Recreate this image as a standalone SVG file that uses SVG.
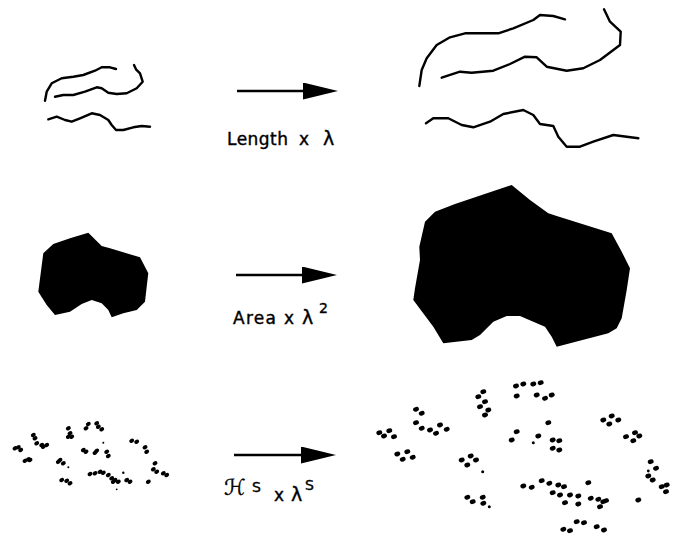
<svg xmlns="http://www.w3.org/2000/svg" xmlns:xlink="http://www.w3.org/1999/xlink" width="674" height="534" viewBox="0 0 674 534">
<style>
.curve{fill:none;stroke:#000;stroke-width:2.4;stroke-linejoin:round;stroke-linecap:round}
.blob{fill:#000;stroke:none}
.arrow{stroke:#000;stroke-width:2.6;fill:none}
.lbl{font-family:"DejaVu Sans","Liberation Sans",sans-serif;font-size:17px;fill:#000;stroke:#000;stroke-width:0.4}
.lam{font-family:"DejaVu Sans","Liberation Sans",sans-serif;font-size:19px;fill:#000;stroke:#000;stroke-width:0.4}
.sup{font-family:"DejaVu Sans","Liberation Sans",sans-serif;font-size:14px;fill:#000;stroke:#000;stroke-width:0.4}
.scr{font-family:"DejaVu Serif","DejaVu Sans",serif;font-size:22px;font-style:italic;fill:#000;stroke:#000;stroke-width:0.3}
</style>
<defs>
<marker id="head" markerUnits="userSpaceOnUse" markerWidth="36" markerHeight="18" refX="0" refY="8.5" orient="auto" viewBox="0 0 36 18">
<path d="M0,0 L35,8.5 L0,17 Z" fill="#000"/>
</marker>
<ellipse id="d" rx="3" ry="2.3" transform="rotate(-20)"/>
<ellipse id="s" rx="2.6" ry="2" transform="rotate(-30)"/>
</defs>
<rect width="674" height="534" fill="#fff"/>

<g id="curves-small">
<path class="curve" d="M45,100.7 L46.7,91.7 L51.7,83.3 L61.7,78.3 L73.3,76.7 L83.3,75 L95,70.7 L101.7,67.3 L110,67.3 L116,69"/>
<path class="curve" d="M55,96.7 L63.3,95 L73.3,95 L85,91.7 L96.7,87.3 L101.7,88.3 L108.3,92.7 L116.7,94 L126.7,93.3 L136.7,88.3 L142.7,81.7 L140,73.3 L136,69.3 L134,65"/>
<path class="curve" d="M48.3,119.3 L56.7,116.7 L65,120 L71.7,121.7 L80,118.3 L91.7,113.3 L100,115 L108.3,120 L111.7,125 L116,130 L123.3,130 L133.3,127.3 L141.7,126 L150,126.7"/>
</g>

<g id="curves-large">
<path class="curve" d="M419.3,86 L421.7,70 L426.7,58.3 L436.7,45 L450,37.3 L465,33.3 L498.3,33.3 L513.3,28.3 L533.3,20 L540,15 L553.3,16 L565,19.3"/>
<path class="curve" d="M441.7,77.7 L460,71.7 L471.7,72.7 L493.3,70.7 L510,64 L525,56.7 L536.7,57.3 L546.7,66.7 L566.7,70.7 L583.3,68.3 L600,60 L620,45 L620.7,31.7 L610,21.7 L604,9.3"/>
<path class="curve" d="M426,123.3 L433.3,118.3 L448.3,118.3 L461.7,125 L473.3,127.3 L490,121.7 L503.3,114 L523.3,110 L533.3,115 L540,124 L553.3,126 L558.3,136.7 L566.7,146.7 L580,146.7 L593.3,141.7 L613.3,135 L638.3,138.3"/>
</g>

<g id="shape-small">
<path class="blob" d="M88.3,232.7 L101.7,246 L110,248.3 L140,257.3 L148.3,273.3 L146.7,286.7 L145,301.7 L136.7,310 L123.3,313.3 L111.7,317.3 L108.3,310 L101.7,303.3 L91.7,300 L81.7,304 L70,311.7 L55,315 L46.7,305 L38.3,291.7 L40.7,273.3 L43.3,253.3 L53.3,244 L70,238.3 Z"/>
</g>

<g id="shape-large">
<path class="blob" d="M511.7,185 L530,200 L548.3,213.3 L556.7,216 L611.7,233.3 L621.7,251.7 L630,268.3 L626.7,290 L621.7,318.3 L616.7,328.3 L608.3,333.3 L556.7,346.7 L551.7,336.7 L545,326.7 L533.3,321.7 L520,316 L506.7,316 L493.3,321.7 L480,335 L471.7,340 L443.3,343.3 L433.3,326.7 L413.3,300 L415,288.3 L420,260 L419.3,246.7 L425,221.7 L435,211.7 L455,204 Z"/>
</g>

<g id="dust-small">
<use href="#s" x="15" y="448.3"/><use href="#s" x="18.3" y="447.3"/><use href="#s" x="20.7" y="450"/>
<use href="#s" x="33.3" y="435"/><use href="#s" x="35" y="438.3"/><use href="#s" x="36.7" y="443.3"/><use href="#s" x="41.7" y="445"/><use href="#s" x="46.7" y="445"/><use href="#s" x="43.3" y="446.7"/>
<use href="#s" x="28.3" y="459.3"/><use href="#s" x="25" y="460.7"/><use href="#s" x="30" y="460"/>
<use href="#s" x="68.3" y="428.3"/><use href="#s" x="70" y="433.3"/><use href="#s" x="68.3" y="436.7"/><use href="#s" x="71.7" y="436.7"/>
<use href="#s" x="88.3" y="424"/><use href="#s" x="86" y="428.3"/><use href="#s" x="96.7" y="423.3"/><use href="#s" x="98.3" y="426.7"/><use href="#s" x="101.7" y="429.3"/>
<use href="#s" x="60" y="460"/><use href="#s" x="58.3" y="461.7"/><use href="#s" x="63.3" y="463.3"/><circle cx="68.3" cy="467.3" r="1"/>
<use href="#s" x="83.3" y="450"/><use href="#s" x="86" y="451.7"/><use href="#s" x="96.7" y="450.7"/><use href="#s" x="95" y="452.7"/><use href="#s" x="106.7" y="451.7"/><use href="#s" x="108.3" y="456"/>
<circle cx="103.3" cy="442.7" r="1"/>
<use href="#s" x="131.7" y="440.7"/><use href="#s" x="136.7" y="441.7"/><use href="#s" x="145" y="447.3"/><use href="#s" x="146.7" y="451.7"/>
<use href="#s" x="155" y="463.3"/><use href="#s" x="153.3" y="469.3"/><use href="#s" x="156.7" y="471.7"/><use href="#s" x="163.3" y="473.3"/><use href="#s" x="166.7" y="475"/>
<use href="#s" x="61.7" y="480"/><use href="#s" x="66.7" y="480.7"/><use href="#s" x="70" y="483.3"/>
<use href="#s" x="90" y="474"/><use href="#s" x="95" y="473.3"/><use href="#s" x="100" y="471.7"/><use href="#s" x="103.3" y="472.7"/><use href="#s" x="108.3" y="475"/><use href="#s" x="111.7" y="478.3"/><use href="#s" x="115" y="480"/><use href="#s" x="118.3" y="481.7"/><use href="#s" x="113.3" y="481.7"/>
<circle cx="123.3" cy="472.7" r="1.2"/>
<use href="#s" x="126.7" y="480"/><use href="#s" x="130" y="481.7"/>
<use href="#s" x="148.3" y="481.7"/>
<circle cx="116.7" cy="489.3" r="0.9"/>
</g>

<g id="dust-large">
<use href="#d" x="379.3" y="432.7"/><use href="#d" x="384" y="436"/><use href="#d" x="389.3" y="430.7"/><use href="#d" x="394" y="436.7"/>
<use href="#d" x="416" y="409.3"/><use href="#d" x="421.7" y="413.3"/><use href="#d" x="416" y="422.7"/><use href="#d" x="421.7" y="428.3"/><use href="#d" x="430" y="430"/><use href="#d" x="436" y="433.3"/><use href="#d" x="440" y="425"/><use href="#d" x="446.7" y="429.3"/>
<use href="#d" x="397.3" y="454"/><use href="#d" x="402.7" y="459.3"/><use href="#d" x="407.3" y="451.7"/><use href="#d" x="412.7" y="457.3"/>
<use href="#d" x="461.7" y="460"/><use href="#d" x="467.3" y="465"/><use href="#d" x="470.7" y="456"/><use href="#d" x="476" y="460"/><circle cx="482.7" cy="471.7" r="1.5"/>
<use href="#d" x="467.3" y="497.3"/><use href="#d" x="472.7" y="501.7"/><use href="#d" x="482.7" y="497.3"/><use href="#d" x="483.3" y="503.3"/><circle cx="489.3" cy="506.7" r="1.5"/>
<use href="#d" x="478.3" y="396.7"/><use href="#d" x="483.3" y="391.7"/><use href="#d" x="485" y="401.7"/><use href="#d" x="480" y="406.7"/><use href="#d" x="488.3" y="410"/><use href="#d" x="485" y="415"/>
<use href="#d" x="516" y="386"/><use href="#d" x="523.3" y="384"/><use href="#d" x="516.7" y="396"/><use href="#d" x="533.3" y="384"/><use href="#d" x="540.7" y="382.7"/><use href="#d" x="536.7" y="395"/><use href="#d" x="545" y="398.3"/><use href="#d" x="551.7" y="395"/>
<use href="#d" x="548.3" y="422.7"/>
<use href="#d" x="511.7" y="440"/><use href="#d" x="516.7" y="431.7"/><circle cx="533.3" cy="442.7" r="1.5"/><use href="#d" x="538.3" y="436"/><use href="#d" x="552.7" y="440"/><use href="#d" x="559.3" y="440.7"/><use href="#d" x="552.7" y="448.3"/><use href="#d" x="559.3" y="450"/>
<use href="#d" x="588.3" y="482.7"/>
<use href="#d" x="523.3" y="486"/><use href="#d" x="531.7" y="487.3"/><use href="#d" x="541.7" y="480.7"/><use href="#d" x="549.3" y="483.3"/><use href="#d" x="558.3" y="485"/><use href="#d" x="564" y="486.7"/><use href="#d" x="552.7" y="492.7"/><use href="#d" x="560" y="495"/><use href="#d" x="570" y="495"/><use href="#d" x="578.3" y="496"/><use href="#d" x="565" y="502.7"/><use href="#d" x="578.3" y="504"/><use href="#d" x="590.7" y="498.3"/><use href="#d" x="598.3" y="499.3"/><use href="#d" x="603.3" y="501.7"/><use href="#d" x="600" y="506.7"/><use href="#d" x="606" y="500.7"/>
<use href="#d" x="563.3" y="529.3"/><use href="#d" x="570" y="530.7"/><use href="#d" x="576.7" y="521.7"/><use href="#d" x="584" y="522.7"/><use href="#d" x="596.7" y="526.7"/><use href="#d" x="604" y="530"/>
<use href="#d" x="603.3" y="420"/><use href="#d" x="609.3" y="424"/><use href="#d" x="611.7" y="416"/><use href="#d" x="618.3" y="420"/>
<use href="#d" x="626" y="436.7"/><use href="#d" x="633.3" y="440.7"/><use href="#d" x="635" y="432.7"/><use href="#d" x="639.3" y="436"/>
<use href="#d" x="638.3" y="500"/>
<use href="#d" x="650.7" y="461.7"/><use href="#d" x="656" y="468.3"/><use href="#d" x="648.3" y="476"/><use href="#d" x="652.7" y="480"/><use href="#d" x="661.7" y="486.7"/><use href="#d" x="666.7" y="485"/><use href="#d" x="666" y="491.7"/><circle cx="648.3" cy="471" r="1.4"/>
</g>

<g id="connectors">
<line class="arrow" x1="237" y1="91" x2="303" y2="91" marker-end="url(#head)"/>
<line class="arrow" x1="236" y1="275" x2="302" y2="275" marker-end="url(#head)"/>
<line class="arrow" x1="234" y1="455" x2="301" y2="455" marker-end="url(#head)"/>
</g>

<g id="labels">
<text class="lbl" x="227" y="145" textLength="61" lengthAdjust="spacing">Length</text>
<text class="lbl" x="299" y="145">x</text>
<text class="lam" x="323" y="145">λ</text>
<text class="lbl" x="233" y="324" textLength="43" lengthAdjust="spacing">Area</text>
<text class="lbl" x="284" y="324">x</text>
<text class="lam" x="302" y="324">λ</text>
<text class="sup" x="319" y="313">2</text>
<text class="scr" x="224" y="495">ℋ</text>
<text class="sup" x="252" y="492">S</text>
<text class="lbl" x="274" y="501">x</text>
<text class="lam" x="291" y="501">λ</text>
<text class="sup" x="305" y="490">S</text>
</g>
</svg>
